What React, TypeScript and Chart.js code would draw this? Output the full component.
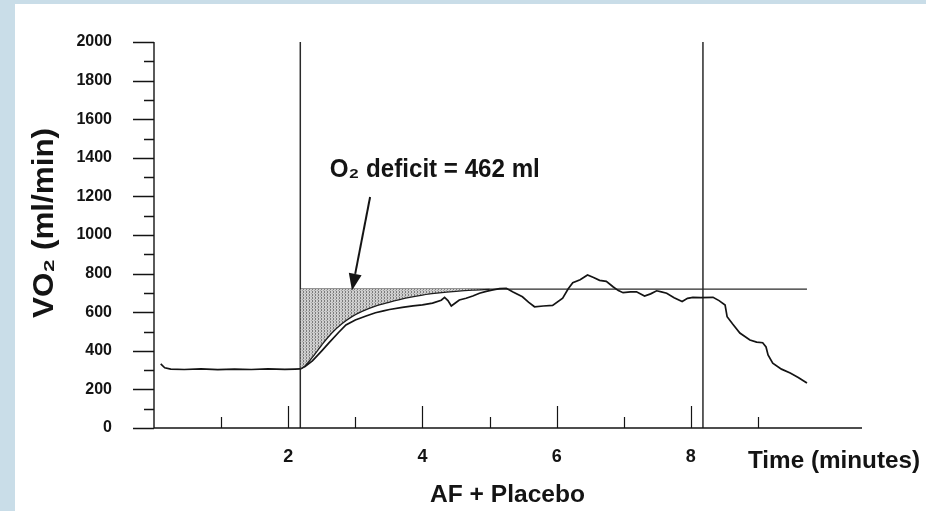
import React, { useEffect, useRef } from "react";
import { Chart, registerables } from "chart.js";

Chart.register(...registerables);

// ---- data ----
const rawTime = [
  0.1, 0.16, 0.25, 0.45, 0.7, 0.95, 1.2, 1.45, 1.7, 1.95,
  2.1, 2.18, 2.25, 2.36, 2.5, 2.61, 2.75, 2.86, 3.0, 3.16,
  3.3, 3.42, 3.51, 3.7, 3.86, 4.0, 4.15, 4.28, 4.33, 4.38,
  4.43, 4.5, 4.55, 4.65, 4.75, 4.85, 4.95, 5.05, 5.15, 5.25,
  5.35, 5.49, 5.58, 5.67, 5.8, 5.94, 6.09, 6.17, 6.24, 6.35,
  6.46, 6.55, 6.64, 6.74, 6.84, 6.92, 6.99, 7.1, 7.19, 7.31,
  7.4, 7.49, 7.56, 7.64, 7.75, 7.87, 7.95, 8.03, 8.15, 8.33,
  8.42, 8.51, 8.54, 8.62, 8.73, 8.88, 8.98, 9.07, 9.12, 9.15,
  9.22, 9.35, 9.48, 9.6, 9.7, 9.73,
];
const rawVO2 = [
  332, 312, 305, 303, 306, 302, 305, 303, 306, 304,
  305, 306, 318, 348, 400, 442, 495, 534, 560, 580,
  597, 607, 614, 625, 633, 638, 647, 662, 677, 660,
  632, 650, 663, 672, 684, 698, 708, 716, 722, 724,
  705, 680, 652, 628, 632, 635, 673, 720, 753, 768,
  793, 780, 765, 760, 732, 712, 701, 705, 706, 684,
  695, 711, 705, 698, 675, 655, 672, 677, 676, 677,
  660, 637, 577, 540, 492, 456, 445, 442, 420, 378,
  336, 305, 285, 262, 240, 233,
];
const fitTime = [2.18, 2.25, 2.35, 2.5, 2.65, 2.8, 2.95, 3.1, 3.3, 3.5, 3.75, 4.0, 4.25, 4.5, 4.75, 5.0];
const fitVO2 = [305, 322, 362, 430, 492, 540, 577, 604, 631, 651, 673, 689, 700, 708, 714, 718];

const onsetTime = 2.18;
const offsetTime = 8.18;
const steadyStateVO2 = 720;
const plateauEndTime = 9.73;

const xMin = 0;
const xMax = 10.55;
const yMin = 0;
const yMax = 2000;
const xTickLabels = [2, 4, 6, 8];
const yStep = 200;

const yTitle = "VO₂ (ml/min)";
const xTitle = "Time (minutes)";
const conditionLabel = "AF + Placebo";
const deficitLabel = "O₂ deficit = 462 ml";
const deficitLabelAnchor = { x: 2.62, y: 1300 };
const arrowTail = { x: 3.22, y: 1197 };
const arrowTip = { x: 2.95, y: 712 };

const FONT = '"Liberation Sans", Arial, Helvetica, sans-serif';
const INK = "#141414";

function fitText(
  ctx: CanvasRenderingContext2D,
  text: string,
  x: number,
  y: number,
  size: number,
  width: number,
  rotate = 0
) {
  ctx.save();
  ctx.font = `bold ${size}px ${FONT}`;
  const w = ctx.measureText(text).width;
  ctx.translate(x, y);
  if (rotate) ctx.rotate(rotate);
  ctx.scale(width / w, 1);
  ctx.fillStyle = INK;
  ctx.textAlign = "left";
  ctx.textBaseline = "alphabetic";
  ctx.fillText(text, 0, 0);
  ctx.restore();
}

const decorPlugin = {
  id: "decor",
  beforeDraw(chart: any) {
    const { ctx, width, height } = chart;
    ctx.save();
    ctx.fillStyle = "#c9dde8";
    ctx.fillRect(0, 0, width, height);
    ctx.fillStyle = "#ffffff";
    ctx.fillRect(15, 4, width - 15, height - 4);
    ctx.restore();
  },
  afterDraw(chart: any) {
    const { ctx, chartArea } = chart;
    const { left, right, top, bottom } = chartArea;
    const xs = chart.scales.x;
    const ys = chart.scales.y;
    ctx.save();
    ctx.strokeStyle = INK;
    ctx.lineWidth = 1.4;
    // axis lines
    ctx.beginPath();
    ctx.moveTo(left, top);
    ctx.lineTo(left, bottom);
    ctx.lineTo(right, bottom);
    ctx.stroke();
    // y ticks: major outward + minor in between
    const yt = ys.ticks.map((t: any) => t.value);
    ctx.beginPath();
    yt.forEach((v: number, i: number) => {
      const py = Math.round(ys.getPixelForValue(v)) + 0.5;
      ctx.moveTo(left - 21, py);
      ctx.lineTo(left, py);
      if (i < yt.length - 1) {
        const pm = Math.round(ys.getPixelForValue((v + yt[i + 1]) / 2)) + 0.5;
        ctx.moveTo(left - 10, pm);
        ctx.lineTo(left, pm);
      }
    });
    ctx.stroke();
    // x ticks: pointing up, longer at even minutes
    ctx.lineWidth = 1.2;
    ctx.beginPath();
    xs.ticks.forEach((t: any) => {
      const v = t.value;
      if (v <= xMin || Math.abs(v - Math.round(v)) > 1e-6) return;
      const px = Math.round(xs.getPixelForValue(v)) + 0.5;
      const len = Math.round(v) % 2 === 0 ? 22 : 11;
      ctx.moveTo(px, bottom);
      ctx.lineTo(px, bottom - len);
    });
    ctx.stroke();

    // arrow
    const ax0 = xs.getPixelForValue(arrowTail.x);
    const ay0 = ys.getPixelForValue(arrowTail.y);
    const ax1 = xs.getPixelForValue(arrowTip.x);
    const ay1 = ys.getPixelForValue(arrowTip.y);
    const ang = Math.atan2(ay1 - ay0, ax1 - ax0);
    const headLen = 17;
    const headHalf = 6.5;
    const bx = ax1 - headLen * Math.cos(ang);
    const by = ay1 - headLen * Math.sin(ang);
    ctx.lineWidth = 2;
    ctx.beginPath();
    ctx.moveTo(ax0, ay0);
    ctx.lineTo(bx, by);
    ctx.stroke();
    ctx.fillStyle = INK;
    ctx.beginPath();
    ctx.moveTo(ax1, ay1);
    ctx.lineTo(bx + headHalf * Math.sin(ang), by - headHalf * Math.cos(ang));
    ctx.lineTo(bx - headHalf * Math.sin(ang), by + headHalf * Math.cos(ang));
    ctx.closePath();
    ctx.fill();
    ctx.restore();

    // texts
    fitText(
      ctx,
      deficitLabel,
      xs.getPixelForValue(deficitLabelAnchor.x),
      ys.getPixelForValue(deficitLabelAnchor.y),
      25,
      210
    );
    fitText(ctx, yTitle, 53, 318, 29, 190, -Math.PI / 2);
    fitText(ctx, xTitle, 748, 468, 24, 172);
    fitText(ctx, conditionLabel, 430, 502, 24, 155);
  },
};

export default function App() {
  const ref = useRef<HTMLCanvasElement | null>(null);

  useEffect(() => {
    const canvas = ref.current;
    if (!canvas) return;
    const ctx = canvas.getContext("2d")!;

    const pc = document.createElement("canvas");
    pc.width = 3;
    pc.height = 3;
    const p = pc.getContext("2d")!;
    p.fillStyle = "#cfcfcf";
    p.fillRect(0, 0, 3, 3);
    p.fillStyle = "#7c7c7c";
    p.fillRect(0, 0, 1, 2);
    p.fillStyle = "#a4a4a4";
    p.fillRect(2, 2, 1, 1);
    const hatch = ctx.createPattern(pc, "repeat")!;

    const pts = (xs: number[], ys: number[]) => xs.map((x, i) => ({ x, y: ys[i] }));

    const chart = new Chart(canvas, {
      type: "line",
      data: {
        datasets: [
          {
            label: "fit",
            data: pts(fitTime, fitVO2),
            borderColor: "#1e1e1e",
            borderWidth: 1.3,
            pointRadius: 0,
            cubicInterpolationMode: "monotone",
            fill: { value: steadyStateVO2 },
            backgroundColor: hatch,
          },
          {
            label: "raw",
            data: pts(rawTime, rawVO2),
            borderColor: INK,
            borderWidth: 1.7,
            pointRadius: 0,
            tension: 0,
            fill: false,
          },
          {
            label: "steady state",
            data: pts([onsetTime, plateauEndTime], [steadyStateVO2, steadyStateVO2]),
            borderColor: "#2a2a2a",
            borderWidth: 1.2,
            pointRadius: 0,
            fill: false,
          },
          {
            label: "onset",
            data: pts([onsetTime, onsetTime], [yMin, yMax]),
            borderColor: "#2a2a2a",
            borderWidth: 1.5,
            pointRadius: 0,
            fill: false,
          },
          {
            label: "offset",
            data: pts([offsetTime, offsetTime], [yMin, yMax]),
            borderColor: "#2a2a2a",
            borderWidth: 1.5,
            pointRadius: 0,
            fill: false,
          },
        ],
      },
      options: {
        responsive: false,
        animation: false,
        devicePixelRatio: 1,
        layout: { padding: { left: 0, top: 42, right: 64, bottom: 0 } },
        plugins: {
          legend: { display: false },
          tooltip: { enabled: false },
          title: { display: false },
        },
        scales: {
          x: {
            type: "linear",
            min: xMin,
            max: xMax,
            afterFit: (s: any) => {
              s.height = 83;
              s.paddingLeft = 0;
              s.paddingRight = 0;
            },
            grid: { display: false, drawTicks: false },
            border: { display: false },
            ticks: {
              stepSize: 1,
              autoSkip: false,
              maxRotation: 0,
              padding: 18,
              color: INK,
              font: { family: FONT, size: 18, weight: "bold" },
              callback: (v: any) => (xTickLabels.includes(Number(v)) ? String(v) : ""),
            },
          },
          y: {
            type: "linear",
            min: yMin,
            max: yMax,
            afterFit: (s: any) => {
              s.width = 154;
              s.paddingTop = 0;
              s.paddingBottom = 0;
            },
            grid: { display: false, drawTicks: false },
            border: { display: false },
            ticks: {
              stepSize: yStep,
              padding: 42,
              color: INK,
              font: { family: FONT, size: 16, weight: "bold" },
              callback: (v: any) => String(v),
            },
          },
        },
      } as any,
      plugins: [decorPlugin],
    });
    return () => chart.destroy();
  }, []);

  return (
    <div style={{ position: "absolute", left: 0, top: 0, width: 926, height: 511 }}>
      <canvas ref={ref} width={926} height={511} style={{ display: "block" }} />
    </div>
  );
}
